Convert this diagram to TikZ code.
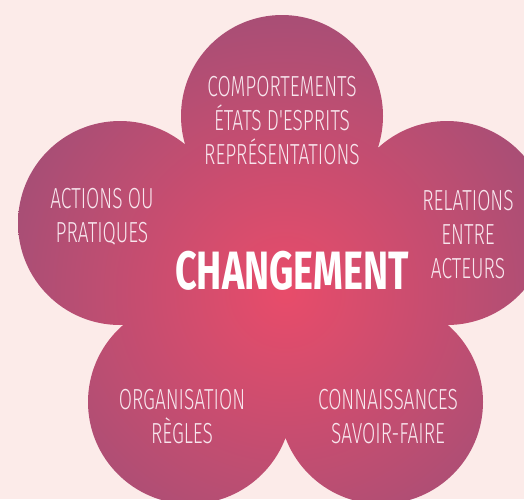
\documentclass[tikz,border=0pt]{standalone}
\usepackage{fontspec}
\usepackage{tikz}
\newfontfamily\petalfont[FakeStretch=0.66]{Fira Sans Light}
\newfontfamily\titlefont[FakeStretch=0.70]{Fira Sans}
\definecolor{bgpink}{HTML}{FCEBE9}
\definecolor{flouter}{HTML}{9A4F78}
\definecolor{flinner}{HTML}{E84C6A}
\definecolor{petalwhite}{HTML}{F8E6EE}

\begin{document}
\begin{tikzpicture}[x=1pt,y=-1pt,
		petaltext/.style={text=petalwhite, align=center, inner sep=0pt,
			font=\petalfont\fontsize{29}{34}\selectfont},
		centertext/.style={text=white, inner sep=0pt,
			font=\titlefont\bfseries\fontsize{54}{60}\selectfont}]
	\fill[bgpink] (0,0) rectangle (524,499);
	\useasboundingbox (0,0) rectangle (524,499);
	\coordinate (cT) at (282,116);
	\coordinate (cL) at (120,223);
	\coordinate (cR) at (447,223);
	\coordinate (cBL) at (190,402);
	\coordinate (cBR) at (381,402);
	\coordinate (cM) at (285,280);
	\begin{scope}
		\clip (cT) circle[radius=101pt] (cL) circle[radius=102pt]
			(cR) circle[radius=102pt] (cBL) circle[radius=102pt]
			(cBR) circle[radius=102pt] (cM) circle[radius=150pt];
		\shade[inner color=flinner, outer color=flouter] (285,292) circle[radius=340pt];
	\end{scope}
	\node[petaltext] (T) at (282,121) {COMPORTEMENTS\\ÉTATS D'ESPRITS\\REPRÉSENTATIONS};
	\node[petaltext] (L) at (102,217) {ACTIONS OU\\PRATIQUES};
	\node[petaltext] (R) at (468,235) {RELATIONS\\ENTRE\\ACTEURS};
	\node[petaltext] (BL) at (182,417) {ORGANISATION\\RÈGLES};
	\node[petaltext] (BR) at (388,417) {CONNAISSANCES\\SAVOIR-FAIRE};
	\node[centertext] (C) at (292,271) {CHANGEMENT};
\end{tikzpicture}
\end{document}
